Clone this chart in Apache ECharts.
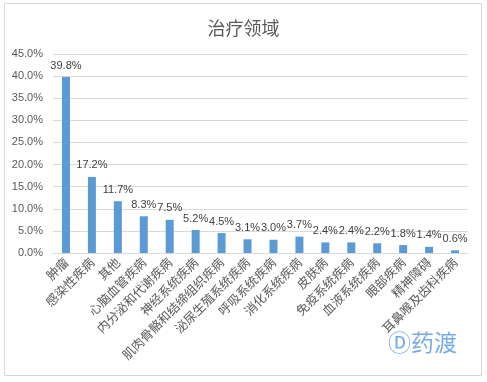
<!DOCTYPE html>
<html><head><meta charset="utf-8">
<script src="https://cdn.jsdelivr.net/npm/echarts@6/dist/echarts.min.js"></script>
<style>html,body{margin:0;padding:0;background:#fff}#c{width:487px;height:382px}</style>
</head><body><div id="c"></div>
<script>
const categories = ['肿瘤','感染性疾病','其他','心脑血管疾病','内分泌和代谢疾病','神经系统疾病','肌肉骨骼和结缔组织疾病','泌尿生殖系统疾病','呼吸系统疾病','消化系统疾病','皮肤病','免疫系统疾病','血液系统疾病','眼部疾病','精神障碍','耳鼻喉及齿科疾病'];
const values = [39.8,17.2,11.7,8.3,7.5,5.2,4.5,3.1,3.0,3.7,2.4,2.4,2.2,1.8,1.4,0.6];
const titleText = '治疗领域';
const chart = echarts.init(document.getElementById('c'));
chart.setOption({
  animation:false,
  title:{text:titleText,left:'center',top:14,textStyle:{fontSize:18,fontWeight:'normal',color:'#595959',fontFamily:'Noto Sans CJK SC'}},
  graphic:[
    {type:'rect',shape:{x:4.5,y:3.5,width:477,height:372},style:{fill:'none',stroke:'#d9d9d9',lineWidth:1}},
    {type:'text',left:388,top:331,style:{text:'Ⓓ药渡',fontSize:23,fill:'rgba(74,144,217,0.75)',fontFamily:'Noto Sans CJK SC'}}
  ],
  grid:{left:53,right:19,top:54,bottom:129},
  xAxis:{type:'category',data:categories,
    axisLine:{lineStyle:{color:'#d9d9d9'}},axisTick:{show:false},
    axisLabel:{rotate:45,interval:0,fontSize:12.5,color:'#595959',fontFamily:'Noto Sans CJK SC',margin:7}},
  yAxis:{type:'value',min:0,max:45,interval:5,
    axisLabel:{formatter:v=>v.toFixed(1)+'%',fontSize:11,color:'#595959',margin:10},
    splitLine:{lineStyle:{color:'#d9d9d9'}},axisLine:{show:false}},
  series:[{type:'bar',data:values,barWidth:8,itemStyle:{color:'#5b9bd5'},
    label:{show:true,position:'top',formatter:p=>p.value.toFixed(1)+'%',fontSize:11,color:'#404040',distance:6}}]
});
</script></body></html>
